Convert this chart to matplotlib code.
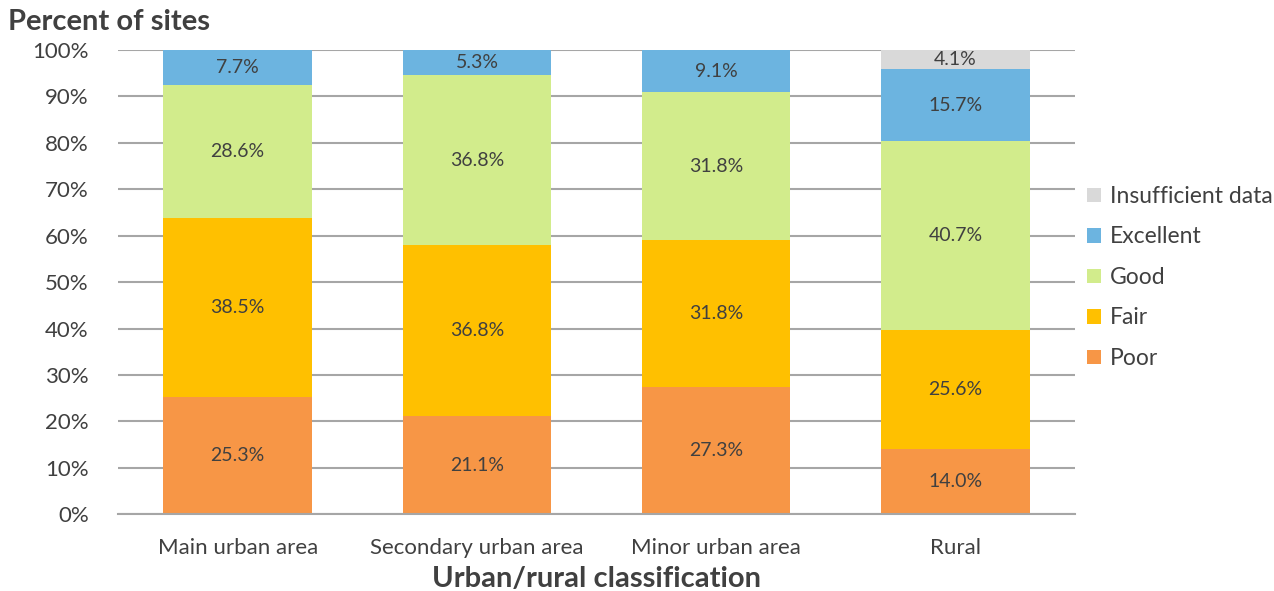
import matplotlib.pyplot as plt
import numpy as np

categories = ["Main urban area", "Secondary urban area", "Minor urban area", "Rural"]
poor = [25.3, 21.1, 27.3, 14.0]
fair = [38.5, 36.8, 31.8, 25.6]
good = [28.6, 36.8, 31.8, 40.7]
excellent = [7.7, 5.3, 9.1, 15.7]
insufficient = [0.0, 0.0, 0.0, 4.1]

series = [("Poor", poor, "#F79646"),
          ("Fair", fair, "#FFC000"),
          ("Good", good, "#D2EC8C"),
          ("Excellent", excellent, "#6CB4E0"),
          ("Insufficient data", insufficient, "#D9D9D9")]

plt.rcParams['font.family'] = ['Lato', 'DejaVu Sans']
txt = "#404040"

fig = plt.figure(figsize=(12.74, 5.91), dpi=100)
ax = fig.add_axes([0.0926, 0.130, 0.7514, 0.7854])

x = np.arange(len(categories))
bottom = np.zeros(len(categories))
handles = []
for name, vals, col in series:
    vals = np.array(vals)
    h = ax.bar(x, vals, 0.62, bottom=bottom, color=col, label=name, zorder=2)
    handles.append(h)
    for xi, b, v in zip(x, bottom, vals):
        if v > 0:
            ax.text(xi, b + v / 2, "{:.1f}%".format(v), ha="center", va="center",
                    fontsize=14, color=txt, zorder=3)
    bottom += vals

ax.set_xlim(-0.5, 3.5)
ax.set_ylim(0, 100)
ax.set_yticks(range(0, 101, 10))
ax.set_yticklabels(["{}%".format(v) for v in range(0, 101, 10)])
ax.set_xticks(x)
ax.set_xticklabels(categories)
ax.tick_params(axis="both", length=0, labelsize=16, colors=txt)
ax.tick_params(axis="y", pad=21)
ax.tick_params(axis="x", pad=17)
ax.grid(axis="y", color="#A6A6A6", linewidth=1.5, zorder=0)
for s in ["top", "right", "left"]:
    ax.spines[s].set_visible(False)
ax.spines["bottom"].set_color("#A6A6A6")
ax.spines["bottom"].set_linewidth(1.5)

ax.set_xlabel("Urban/rural classification", fontsize=21, fontweight="bold", color=txt, labelpad=6)
fig.text(0.006, 0.963, "Percent of sites", fontsize=21, fontweight="bold", color=txt, va="center", ha="left")

ax.legend(handles[::-1], [s[0] for s in series][::-1], loc="center left",
          bbox_to_anchor=(1.003, 0.51), frameon=False, fontsize=16.5,
          borderaxespad=0, handlelength=0.6, handleheight=0.6, labelspacing=0.85,
          handletextpad=0.4, labelcolor=txt)

fig.savefig("out.png", dpi=100)
